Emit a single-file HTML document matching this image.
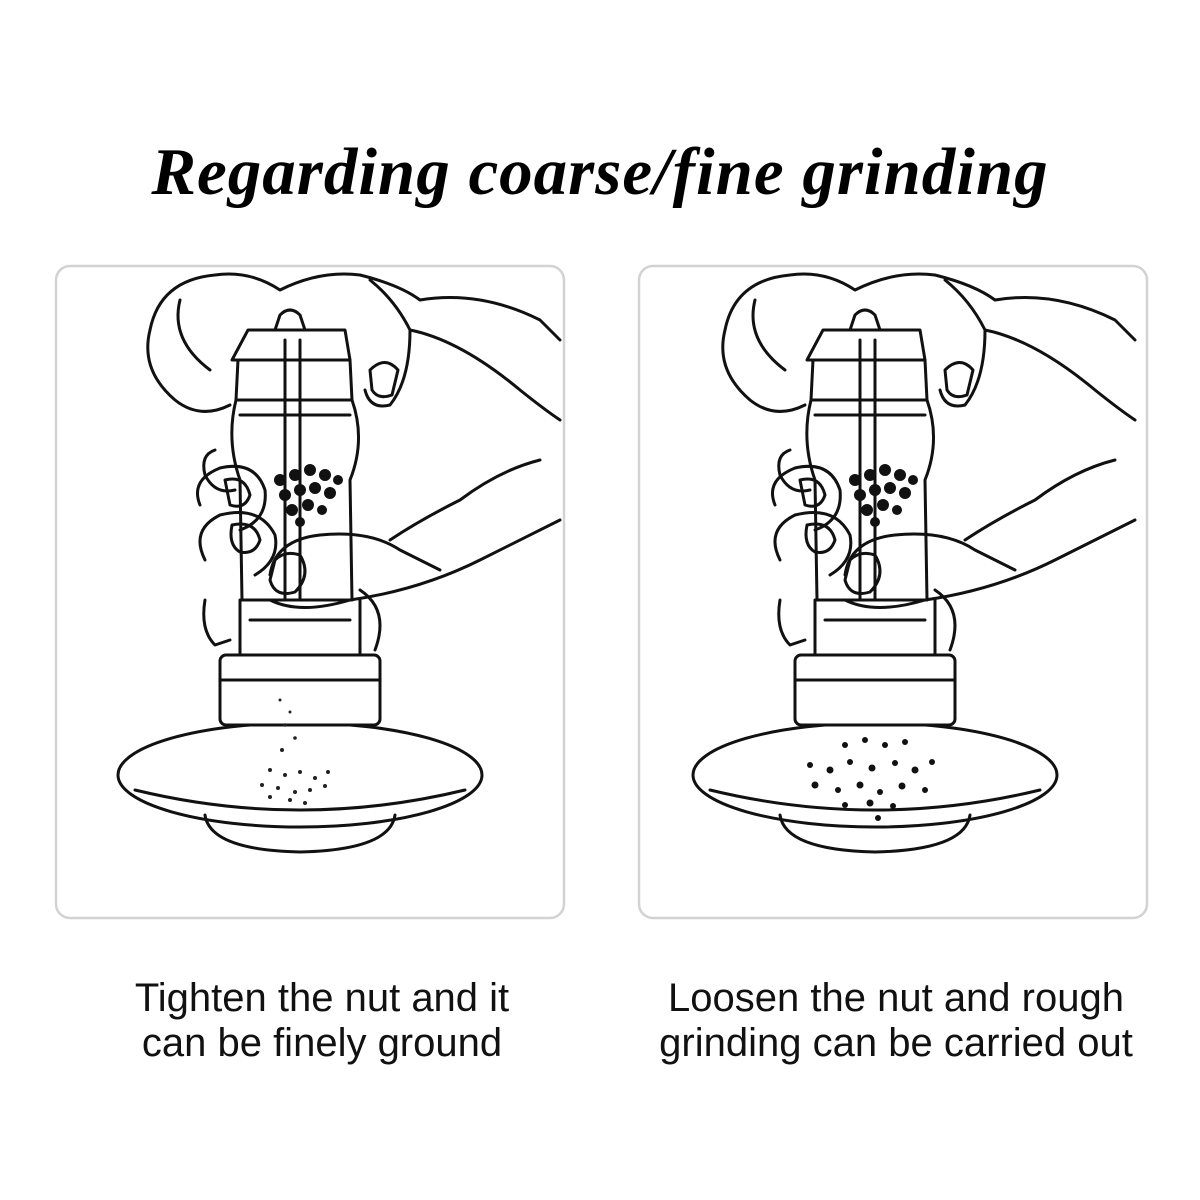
<!DOCTYPE html>
<html><head><meta charset="utf-8"><style>
html,body{margin:0;padding:0;background:#fff;}
.wrap{position:relative;width:1200px;height:1200px;overflow:hidden;background:#fff;}
.title{position:absolute;top:134px;left:0;width:1200px;text-align:center;font-family:"Liberation Serif",serif;font-weight:bold;font-style:italic;font-size:67px;color:#000;letter-spacing:1px;}
.cap{position:absolute;top:976px;font-family:"Liberation Sans",sans-serif;font-size:40px;line-height:45px;color:#111;text-align:center;}
svg{position:absolute;left:0;top:0;}
</style></head><body><div class="wrap">
<div class="title">Regarding coarse/fine grinding</div>
<svg width="1200" height="1200" viewBox="0 0 1200 1200">
<defs>
<g id="ill" fill="none" stroke="#111" stroke-width="3" stroke-linecap="round" stroke-linejoin="round">
 <ellipse cx="300" cy="775" rx="182" ry="52" fill="#fff"/>
 <path d="M135 790 Q300 830 465 790"/>
 <path d="M205 815 Q210 850 300 852 Q390 850 395 815"/>
 <path d="M248 330 L345 330 L350 360 L232 360 Z" fill="#fff"/>
 <path d="M275 330 L280 315 Q290 305 300 315 L305 330"/>
 <path d="M238 360 L236 400 Q226 440 240 480 L242 600 L352 600 L350 480 Q366 440 352 400 L350 360"/>
 <path d="M236 400 L352 400 M240 415 L350 415"/>
 <path d="M285 340 L285 600 M300 340 L300 600"/>
 <rect x="220" y="655" width="160" height="70" rx="6" fill="#fff"/>
 <path d="M220 680 L380 680"/>
 <path d="M240 600 L240 655 M360 600 L360 655 M250 620 L350 620"/>
 <path d="M150 330 Q160 280 215 275 Q250 270 280 290 Q320 270 360 275 Q400 285 420 300 Q480 290 540 320 L560 340"/>
 <path d="M150 330 Q140 370 175 400 Q200 420 230 405"/>
 <path d="M180 300 Q170 340 210 370"/>
 <path d="M370 280 Q395 300 410 330 Q410 380 390 405 Q370 410 365 390"/>
 <path d="M370 370 Q385 355 398 370 L392 395 Q378 400 372 390 Z"/>
 <path d="M410 330 Q460 340 520 390 Q545 410 560 420"/>
 <path d="M540 460 Q500 470 460 500 Q420 520 390 540"/>
 <path d="M215 450 Q200 455 205 475 Q215 495 235 490"/>
 <path d="M200 505 Q190 480 220 468 Q255 460 265 490 Q268 520 240 530"/>
 <path d="M225 480 Q245 475 250 495 Q245 510 230 505 Z"/>
 <path d="M205 560 Q190 530 220 515 Q260 505 275 535 Q280 560 255 575"/>
 <path d="M232 525 Q255 520 260 540 Q255 555 240 552 Q228 545 232 525 Z"/>
 <path d="M270 575 Q275 540 320 535 Q370 530 400 550 Q420 560 440 570"/>
 <path d="M275 560 Q285 550 300 555 Q312 575 295 592 Q275 598 270 580 Z"/>
 <path d="M270 600 Q300 615 350 600 Q420 590 480 560 Q520 540 560 520"/>
 <path d="M205 600 Q200 630 215 645 L230 640 M360 590 Q390 610 375 650"/>
</g>
</defs>
<rect x="56" y="266" width="508" height="652" rx="14" fill="none" stroke="#d2d2d2" stroke-width="2.5"/>
<rect x="639" y="266" width="508" height="652" rx="14" fill="none" stroke="#d2d2d2" stroke-width="2.5"/>
<use href="#ill"/>
<use href="#ill" transform="translate(575,0)"/>
<g fill="#111">
<circle cx="280" cy="480" r="6"/><circle cx="295" cy="475" r="6"/><circle cx="310" cy="470" r="6"/><circle cx="325" cy="475" r="6"/><circle cx="338" cy="480" r="5"/>
<circle cx="285" cy="495" r="6"/><circle cx="300" cy="490" r="6"/><circle cx="315" cy="488" r="6"/><circle cx="330" cy="493" r="6"/>
<circle cx="292" cy="510" r="6"/><circle cx="308" cy="505" r="6"/><circle cx="322" cy="510" r="5"/><circle cx="300" cy="522" r="5"/>
<circle cx="855" cy="480" r="6"/><circle cx="870" cy="475" r="6"/><circle cx="885" cy="470" r="6"/><circle cx="900" cy="475" r="6"/><circle cx="913" cy="480" r="5"/>
<circle cx="860" cy="495" r="6"/><circle cx="875" cy="490" r="6"/><circle cx="890" cy="488" r="6"/><circle cx="905" cy="493" r="6"/>
<circle cx="867" cy="510" r="6"/><circle cx="883" cy="505" r="6"/><circle cx="897" cy="510" r="5"/><circle cx="875" cy="522" r="5"/>
</g>
<g fill="#222">
<circle cx="280" cy="700" r="1.5"/><circle cx="290" cy="712" r="1.5"/><circle cx="285" cy="725" r="1.8"/><circle cx="295" cy="738" r="1.8"/><circle cx="282" cy="750" r="2"/>
<circle cx="270" cy="770" r="2"/><circle cx="285" cy="775" r="2"/><circle cx="300" cy="772" r="2"/><circle cx="315" cy="778" r="2"/><circle cx="328" cy="772" r="2"/>
<circle cx="262" cy="785" r="2"/><circle cx="278" cy="788" r="2"/><circle cx="295" cy="792" r="2"/><circle cx="310" cy="790" r="2"/><circle cx="325" cy="786" r="2"/>
<circle cx="290" cy="800" r="2"/><circle cx="305" cy="803" r="2"/><circle cx="270" cy="797" r="2"/>
</g>
<g fill="#111">
<circle cx="845" cy="745" r="3"/><circle cx="865" cy="740" r="3"/><circle cx="885" cy="745" r="3"/><circle cx="905" cy="742" r="3"/>
<circle cx="810" cy="765" r="3"/><circle cx="830" cy="770" r="3.5"/><circle cx="850" cy="762" r="3"/><circle cx="872" cy="768" r="3.5"/><circle cx="895" cy="763" r="3"/><circle cx="915" cy="770" r="3.5"/><circle cx="932" cy="762" r="3"/>
<circle cx="815" cy="785" r="3.5"/><circle cx="838" cy="790" r="3"/><circle cx="860" cy="785" r="3.5"/><circle cx="880" cy="792" r="3"/><circle cx="902" cy="786" r="3.5"/><circle cx="925" cy="790" r="3"/>
<circle cx="845" cy="805" r="3"/><circle cx="870" cy="803" r="3.5"/><circle cx="893" cy="806" r="3"/><circle cx="878" cy="818" r="3"/>
</g>
</svg>
<div class="cap" style="left:62px;width:520px;">Tighten the nut and it<br>can be finely ground</div>
<div class="cap" style="left:626px;width:540px;">Loosen the nut and rough<br>grinding can be carried out</div>
</div></body></html>
